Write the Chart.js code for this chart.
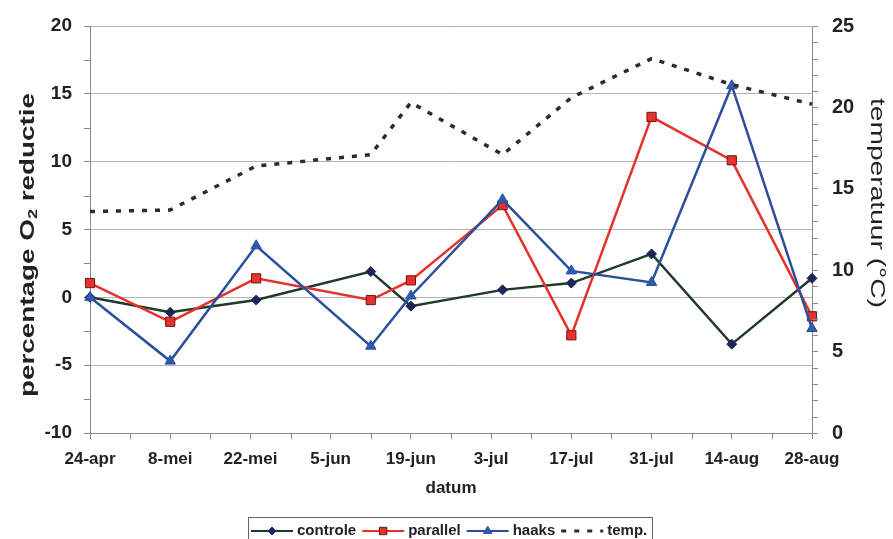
<!DOCTYPE html>
<html><head><meta charset="utf-8">
<script src="https://cdn.jsdelivr.net/npm/chart.js@4/dist/chart.umd.min.js"></script>
<style>html,body{margin:0;padding:0;background:#fff;overflow:hidden}canvas{display:block}</style>
</head><body>
<canvas id="c" width="893" height="539"></canvas>
<script>
// Sampling moments, in days counted from 24-apr
const sampleDays = [0, 14, 29, 49, 56, 72, 84, 98, 112, 126];
// Tick labels of the date axis (every 14 days from 24-apr)
const xTickLabels = ['24-apr', '8-mei', '22-mei', '5-jun', '19-jun', '3-jul', '17-jul', '31-jul', '14-aug', '28-aug'];
// percentage O2 reductie
const controle = [0, -1.1, -0.2, 1.9, -0.65, 0.55, 1.05, 3.2, -3.45, 1.4];
const parallel = [1.05, -1.8, 1.4, -0.2, 1.25, 6.8, -2.8, 13.3, 10.1, -1.4];
const haaks = [0, -4.7, 3.8, -3.6, 0.1, 7.2, 1.95, 1.1, 15.6, -2.3];
// temperatuur (°C)
const temp = [13.6, 13.7, 16.4, 17.1, 20.3, 17.1, 20.6, 23.0, 21.4, 20.2];
const seriesNames = ['controle', 'parallel', 'haaks', 'temp.'];

const FONT = "'Liberation Sans', Arial, Helvetica, sans-serif";
const pts = arr => sampleDays.map((d, i) => ({ x: d, y: arr[i] }));

const styles = [
  { line: '#1f3a29', fill: '#1c2758', border: '#1c2758', point: 'rectRot', r: 5, w: 2.5, dash: [] },
  { line: '#e6312c', fill: '#e6312c', border: '#6a1714', point: 'rect', r: 6.5, w: 2.5, dash: [] },
  { line: '#2c4f9c', fill: '#2f5bb2', border: '#2c4f9c', point: 'triangle', r: 6, w: 2.5, dash: [] },
  { line: '#2b2b2b', fill: '#2b2b2b', border: '#2b2b2b', point: false, r: 0, w: 3.5, dash: [5, 8] }
];
const seriesData = [controle, parallel, haaks, temp];

const datasets = seriesData.map((arr, i) => ({
  label: seriesNames[i],
  data: pts(arr),
  yAxisID: i === 3 ? 'y1' : 'y',
  borderColor: styles[i].line,
  borderWidth: styles[i].w,
  borderDash: styles[i].dash,
  pointStyle: styles[i].point,
  pointRadius: styles[i].r,
  pointHoverRadius: styles[i].r,
  pointBackgroundColor: styles[i].fill,
  pointBorderColor: styles[i].border,
  pointBorderWidth: 1,
  tension: 0,
  fill: false,
  clip: false,
  order: 4 - i
}));

const extras = {
  id: 'extras',
  afterDraw(chart) {
    const ctx = chart.ctx;
    const { x, y, y1 } = chart.scales;
    const a = chart.chartArea;
    ctx.save();
    // minor tick marks
    ctx.strokeStyle = '#888';
    ctx.lineWidth = 1;
    ctx.beginPath();
    for (let v = -7.5; v < 20; v += 5) {
      const py = Math.round(y.getPixelForValue(v)) + 0.5;
      ctx.moveTo(a.left - 6, py); ctx.lineTo(a.left, py);
    }
    for (let v = 1; v < 25; v++) {
      if (v % 5 === 0) continue;
      const py = Math.round(y1.getPixelForValue(v)) + 0.5;
      ctx.moveTo(a.right, py); ctx.lineTo(a.right + 6, py);
    }
    for (let d = 7; d < 126; d += 14) {
      const px = Math.round(x.getPixelForValue(d)) + 0.5;
      ctx.moveTo(px, a.bottom); ctx.lineTo(px, a.bottom + 6);
    }
    ctx.stroke();

    ctx.fillStyle = '#222';
    // left axis title with subscript
    ctx.save();
    ctx.translate(28, 245);
    ctx.rotate(-Math.PI / 2);
    ctx.font = `bold 20px ${FONT}`;
    const t1 = 'percentage O', t3 = ' reductie';
    const w1 = ctx.measureText(t1).width, w3 = ctx.measureText(t3).width;
    ctx.font = `bold 13px ${FONT}`;
    const w2 = ctx.measureText('2').width;
    const tot = w1 + w2 + w3;
    ctx.scale(304 / tot, 1);
    ctx.textBaseline = 'middle';
    ctx.textAlign = 'left';
    let sx = -tot / 2;
    ctx.font = `bold 20px ${FONT}`;
    ctx.fillText(t1, sx, 0);
    ctx.font = `bold 13px ${FONT}`;
    ctx.fillText('2', sx + w1, 5);
    ctx.font = `bold 20px ${FONT}`;
    ctx.fillText(t3, sx + w1 + w2, 0);
    ctx.restore();

    // right axis title
    ctx.save();
    ctx.translate(877, 203);
    ctx.rotate(Math.PI / 2);
    ctx.font = `20px ${FONT}`;
    const rt = 'temperatuur (°C)';
    const rw = ctx.measureText(rt).width;
    ctx.scale(210 / rw, 1);
    ctx.textAlign = 'center';
    ctx.textBaseline = 'middle';
    ctx.fillText(rt, 0, 0);
    ctx.restore();

    // x axis title
    ctx.font = `bold 17px ${FONT}`;
    ctx.textAlign = 'center';
    ctx.textBaseline = 'middle';
    ctx.fillText('datum', (a.left + a.right) / 2, 488);

    // legend
    ctx.strokeStyle = '#666';
    ctx.lineWidth = 1;
    ctx.strokeRect(248.5, 517.5, 404, 40);
    ctx.font = `bold 15px ${FONT}`;
    ctx.textAlign = 'left';
    ctx.textBaseline = 'middle';
    const ly = 531;
    let lx = 251;
    seriesNames.forEach((name, i) => {
      const s = styles[i];
      ctx.save();
      ctx.strokeStyle = s.line;
      ctx.lineWidth = s.point ? 2 : 3;
      ctx.setLineDash(s.dash);
      ctx.beginPath();
      ctx.moveTo(lx, ly); ctx.lineTo(lx + 42, ly);
      ctx.stroke();
      ctx.setLineDash([]);
      if (s.point) {
        ctx.fillStyle = s.fill;
        ctx.strokeStyle = s.border;
        ctx.lineWidth = 1;
        Chart.helpers.drawPoint(ctx, { pointStyle: s.point, radius: s.r * 0.8, borderWidth: 1, rotation: 0 }, lx + 21, ly);
      }
      ctx.restore();
      ctx.fillStyle = '#222';
      ctx.fillText(name, lx + 46, ly);
      lx += 46 + ctx.measureText(name).width + 6;
    });
    ctx.restore();
  }
};

new Chart(document.getElementById('c'), {
  type: 'line',
  data: { datasets },
  options: {
    responsive: false,
    devicePixelRatio: 1,
    animation: false,
    events: [],
    layout: { padding: { top: 20, left: 0, right: 0, bottom: 0 } },
    plugins: { legend: { display: false }, tooltip: { enabled: false }, title: { display: false } },
    scales: {
      x: {
        type: 'linear', min: 0, max: 126,
        afterFit: s => { s.height = 106; },
        ticks: {
          stepSize: 14, autoSkip: false, maxRotation: 0, minRotation: 0, padding: 10,
          color: '#222', font: { family: FONT, size: 17, weight: 'bold' },
          callback: v => xTickLabels[Math.round(v / 14)] ?? ''
        },
        grid: { drawOnChartArea: false, drawTicks: true, tickLength: 6, tickColor: '#888', color: '#888' },
        border: { display: true, color: '#888', width: 1 }
      },
      y: {
        position: 'left', min: -10, max: 20,
        afterFit: s => { s.width = 90; },
        ticks: { stepSize: 5, padding: 12, color: '#222', font: { family: FONT, size: 19, weight: 'bold' } },
        grid: { color: '#b4b4b4', tickColor: '#888', tickLength: 6, lineWidth: 1 },
        border: { display: true, color: '#888', width: 1 }
      },
      y1: {
        position: 'right', min: 0, max: 25,
        afterFit: s => { s.width = 81; },
        ticks: { stepSize: 5, padding: 14, color: '#222', font: { family: FONT, size: 20, weight: 'bold' } },
        grid: { drawOnChartArea: false, tickColor: '#888', tickLength: 6 },
        border: { display: true, color: '#888', width: 1 }
      }
    }
  },
  plugins: [extras]
});
</script>
</body></html>
